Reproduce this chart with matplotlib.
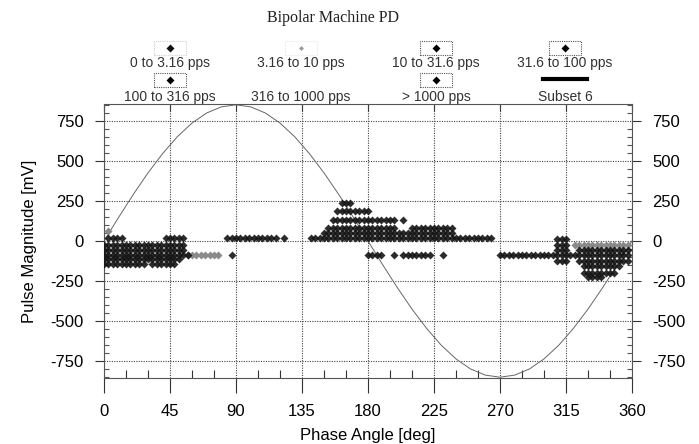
#Bipolar machine PD pattern (phase resolved)

import numpy as np
import matplotlib.pyplot as plt
from matplotlib.patches import Rectangle
from matplotlib.lines import Line2D
from matplotlib.ticker import MultipleLocator

plt.rcParams['axes.unicode_minus'] = False

#Reference sine (read every 10 deg)
ref_phase = list(range(0, 361, 10))
ref_mv = [0, 148, 291, 425, 546, 651, 736, 799, 837, 850,
          837, 799, 736, 651, 546, 425, 291, 148, 0,
          -148, -291, -425, -546, -651, -736, -799, -837, -850,
          -837, -799, -736, -651, -546, -425, -291, -148, 0]

#PD pulses: rows of 3 deg phase bins -> (phase from, phase to, magnitude mV)
pd_black = [
    (3, 12, 20), (42, 54, 20),
    (0, 54, -22), (0, 54, -55), (0, 57, -88), (0, 51, -115),
    (0, 27, -145), (33, 48, -145),
    (84, 117, 18), (123, 123, 18), (87, 87, -90),
    (141, 264, 18), (150, 237, 47), (153, 198, 84), (210, 237, 84),
    (156, 198, 134), (204, 204, 134), (159, 180, 188), (162, 168, 240),
    (180, 189, -90), (198, 198, -90), (204, 222, -90), (231, 231, -90),
    (270, 309, -90), (312, 357, -90),
    (309, 315, 15), (309, 315, -25), (309, 315, -55), (309, 315, -125),
    (324, 357, -55), (324, 357, -125), (327, 351, -157),
    (327, 348, -197), (330, 339, -227),
]
pd_gray = [
    (3, 3, 65), (57, 78, -88), (321, 357, -22),
]

legend_labels = ['0 to 3.16 pps', '3.16 to 10 pps', '10 to 31.6 pps', '31.6 to 100 pps',
                 '100 to 316 pps', '316 to 1000 pps', '> 1000 pps', 'Subset 6']

def expand(rows):
    ph, mv = [], []
    for a, b, m in rows:
        for p in range(a, b + 1, 3):
            ph.append(p)
            mv.append(m)
    return ph, mv

W, H = 699, 444
fx = lambda px: px / W
fy = lambda py: 1 - py / H

fig = plt.figure(figsize=(6.99, 4.44), dpi=100)
ax = fig.add_axes([fx(104), fy(378), fx(632) - fx(104), fy(104) - fy(378)])

ax.plot(ref_phase, ref_mv, color='#666666', lw=0.7, zorder=2)

x, y = expand(pd_gray)
ax.plot(x, y, 'D', ms=4.0, color='#8a8a8a', mec='none', zorder=3)
x, y = expand(pd_black)
ax.plot(x, y, 'D', ms=4.3, color='#151515', mec='none', alpha=0.9, zorder=4)

ax.set_xlim(0, 360)
ax.set_ylim(-855, 855)
ax.xaxis.set_major_locator(MultipleLocator(45))
ax.xaxis.set_minor_locator(MultipleLocator(15))
ax.yaxis.set_minor_locator(MultipleLocator(50))
ax.set_yticks([-750, -500, -250, 0, 250, 500, 750])

ax.grid(True, which='major', color='#444444', lw=0.8, linestyle=(0, (1, 1.2)))
for s in ax.spines.values():
    s.set_color('#555555')
    s.set_linewidth(0.8)
    s.set_linestyle((0, (1, 1)))

ax.tick_params(axis='x', which='major', direction='out', length=11, width=0.8,
               color='#333333', labelsize=12, pad=8, top=False)
ax.tick_params(axis='x', which='minor', direction='in', length=6, width=0.8,
               color='#333333', bottom=True, top=False)
ax.tick_params(axis='y', which='major', direction='out', length=6.5, width=0.8,
               color='#333333', labelsize=12, pad=8, right=True, labelright=True)
ax.tick_params(axis='y', which='minor', direction='in', length=3.5, width=0.8,
               color='#555555', left=True, right=True)
for lab in ax.get_xticklabels() + ax.get_yticklabels():
    lab.set_family('Liberation Sans')

#short ticks hanging from the top frame
top = ax.secondary_xaxis('top')
top.xaxis.set_major_locator(MultipleLocator(45))
top.tick_params(direction='in', length=5, width=0.8, color='#333333', labeltop=False)
top.spines['top'].set_visible(False)

ax.set_xlabel('Phase Angle [deg]', family='Liberation Sans', fontsize=12, labelpad=6)
ax.set_ylabel('Pulse Magnitude [mV]', family='Liberation Sans', fontsize=12, labelpad=10)

#Title
fig.text(fx(333), fy(18), 'Bipolar Machine PD', family='Liberation Serif', fontsize=11.5,
         ha='center', va='center', color='#222222')

#Legend (two rows, four columns, symbol above text)
col_x = [170, 301, 436, 565]
box_y = [48, 80]
text_y = [63, 97]
box_col = ['#cfcfcf', '#e8e8e8', '#555555', '#555555', '#555555', None, '#555555', None]
mark_col = ['#111111', '#9a9a9a', '#000000', '#000000', '#000000', None, '#000000', None]
for i, lab in enumerate(legend_labels):
    r, c = divmod(i, 4)
    cx, by, ty = col_x[c], box_y[r], text_y[r]
    fig.text(fx(cx), fy(ty), lab, family='Liberation Sans', fontsize=10,
             ha='center', va='center', color='#333333')
    if box_col[i]:
        fig.add_artist(Rectangle((fx(cx - 16), fy(by + 7)), 32 / W, 14 / H,
                                 transform=fig.transFigure, fill=False,
                                 ec=box_col[i], lw=0.8, ls=(0, (1, 1))))
    if mark_col[i]:
        fig.add_artist(Line2D([fx(cx)], [fy(by)], marker='D', ms=3.8 if i != 1 else 2.5,
                              color=mark_col[i], mec='none', transform=fig.transFigure))
    if lab == 'Subset 6':
        fig.add_artist(Line2D([fx(cx - 22), fx(cx + 22)], [fy(by - 1), fy(by - 1)],
                              color='black', lw=3, transform=fig.transFigure))

fig.savefig('out.png', dpi=100)
